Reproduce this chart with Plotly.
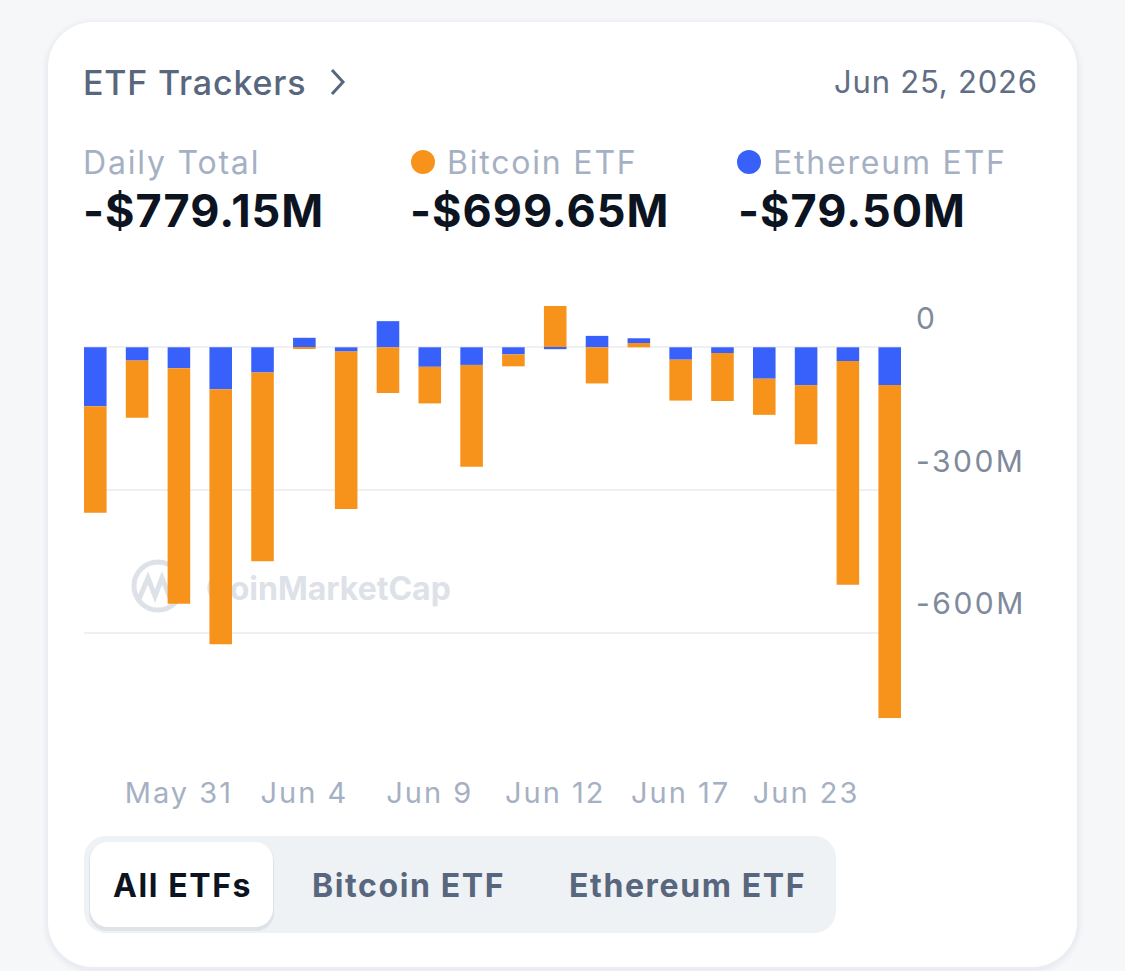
import plotly.graph_objects as go

# ---------------- data ----------------
dates = ["May 28", "May 29", "May 31", "Jun 1", "Jun 2", "Jun 4", "Jun 5", "Jun 8",
         "Jun 9", "Jun 10", "Jun 11", "Jun 12", "Jun 15", "Jun 16", "Jun 17", "Jun 18",
         "Jun 22", "Jun 23", "Jun 24", "Jun 25"]
btc_flow = [-224, -120, -495, -536, -397, -3.5, -331, -96, -77, -214,
            -25, 87, -76, 9, -86, -101, -76, -124, -470, -699.65]
eth_flow = [-124, -28, -44, -88, -53, 20, -9, 55, -41, -37,
            -15, -4, 24, 10, -26, -12, -66, -80, -29, -79.50]
tick_dates = ["May 31", "Jun 4", "Jun 9", "Jun 12", "Jun 17", "Jun 23"]
y_ticks = [0, -300, -600]
y_tick_text = ["0", "-300M", "-600M"]
header_date = "Jun 25, 2026"

# ---------------- helpers ----------------
W, H = 1125, 971
FONT = "Inter, Roboto, 'Noto Sans', sans-serif"
ORANGE = "#f7931a"
BLUE = "#3861fb"


def px(x):
    return x / W


def py(y):
    return 1 - y / H


def rrect(x0, y0, x1, y1, r):
    k = 0.5523 * r
    pts = [
        ("M", [(x0 + r, y0)]),
        ("L", [(x1 - r, y0)]),
        ("C", [(x1 - r + k, y0), (x1, y0 + r - k), (x1, y0 + r)]),
        ("L", [(x1, y1 - r)]),
        ("C", [(x1, y1 - r + k), (x1 - r + k, y1), (x1 - r, y1)]),
        ("L", [(x0 + r, y1)]),
        ("C", [(x0 + r - k, y1), (x0, y1 - r + k), (x0, y1 - r)]),
        ("L", [(x0, y0 + r)]),
        ("C", [(x0, y0 + r - k), (x0 + r - k, y0), (x0 + r, y0)]),
    ]
    s = ""
    for cmd, ps in pts:
        s += cmd + " " + " ".join(f"{px(a):.5f},{py(b):.5f}" for a, b in ps) + " "
    return s + "Z"


def polyline(points):
    return "M " + " L ".join(f"{px(a):.5f},{py(b):.5f}" for a, b in points)


def fmt(v):
    return ("-" if v < 0 else "") + f"${abs(v):.2f}M"


def spaced(t, ls):
    return f'<span style="letter-spacing:{ls}px">{t}</span>'


btc_pos = [v if v > 0 else None for v in btc_flow]
btc_neg = [v if v <= 0 else None for v in btc_flow]

# ---------------- figure ----------------
fig = go.Figure()
bw = 0.54
fig.add_trace(go.Bar(x=dates, y=btc_pos, marker_color=ORANGE, width=bw,
                     marker_line_width=0, name="Bitcoin ETF", showlegend=False))
fig.add_trace(go.Bar(x=dates, y=eth_flow, marker_color=BLUE, width=bw,
                     marker_line_width=0, name="Ethereum ETF", showlegend=False))
fig.add_trace(go.Bar(x=dates, y=btc_neg, marker_color=ORANGE, width=bw,
                     marker_line_width=0, name="Bitcoin ETF", showlegend=False))

shapes = []
# card shadow + card
for i, a in enumerate([0.012, 0.012, 0.015]):
    e = 6 - 2 * i
    shapes.append(dict(type="path", xref="paper", yref="paper", layer="below",
                       path=rrect(48 - e, 22 - e + 2, 1077 + e, 967 + e + 2, 45 + e),
                       fillcolor=f"rgba(20,30,60,{a})", line_width=0))
shapes.append(dict(type="path", xref="paper", yref="paper", layer="below",
                   path=rrect(48, 22, 1077, 967, 45), fillcolor="#ffffff", line_width=0))
# chevron
shapes.append(dict(type="path", xref="paper", yref="paper",
                   path=polyline([(332, 70), (343, 82), (332, 94)]),
                   line=dict(color="#58667e", width=3)))
# legend dots
shapes.append(dict(type="circle", xref="paper", yref="paper",
                   x0=px(411), x1=px(435), y0=py(150), y1=py(174),
                   fillcolor=ORANGE, line_width=0))
shapes.append(dict(type="circle", xref="paper", yref="paper",
                   x0=px(737), x1=px(761), y0=py(150), y1=py(174),
                   fillcolor=BLUE, line_width=0))
# watermark logo
WM = "#dde1e8"
shapes.append(dict(type="circle", xref="paper", yref="paper", layer="below",
                   x0=px(134), x1=px(182), y0=py(562), y1=py(610),
                   fillcolor="rgba(0,0,0,0)", line=dict(color=WM, width=5)))
shapes.append(dict(type="path", xref="paper", yref="paper", layer="below",
                   path=polyline([(139, 599), (148, 578), (155, 596), (162, 578),
                                  (169, 595), (178, 588)]),
                   line=dict(color=WM, width=5)))
shapes.append(dict(type="rect", xref="paper", yref="paper", layer="below",
                   x0=px(203), x1=px(460), y0=py(606), y1=py(568),
                   line_width=0, fillcolor="rgba(0,0,0,0)",
                   label=dict(text="<b>CoinMarketCap</b>", textposition="middle left",
                              padding=0,
                              font=dict(family=FONT, size=32, color=WM))))
# segmented control
shapes.append(dict(type="path", xref="paper", yref="paper", layer="below",
                   path=rrect(84, 836, 836, 933, 22), fillcolor="#eff2f5", line_width=0))
shapes.append(dict(type="path", xref="paper", yref="paper", layer="below",
                   path=rrect(89, 843, 274, 931, 18), fillcolor="rgba(20,30,60,0.07)",
                   line_width=0))
shapes.append(dict(type="path", xref="paper", yref="paper", layer="below",
                   path=rrect(90, 842, 273, 927, 18), fillcolor="#ffffff", line_width=0))

ann = []


def text(x, y, t, size, color, anchor="left", bold=False, ls=0, weight=None):
    t = f"<b>{t}</b>" if bold else t
    if ls:
        t = spaced(t, ls)
    f = dict(family=FONT, size=size, color=color)
    if weight:
        f["weight"] = weight
    ann.append(dict(x=px(x), y=py(y), xref="paper", yref="paper", showarrow=False,
                    text=t, xanchor=anchor, yanchor="middle", font=f))


text(81, 82, "ETF Trackers", 34, "#58667e", ls=0.8, weight=500)
text(1040, 81, header_date, 31, "#616e85", anchor="right", ls=0.8)
text(81, 162, "Daily Total", 32, "#a6b0c3", ls=1.8)
text(445, 162, "Bitcoin ETF", 32, "#a6b0c3", ls=1.8)
text(771, 162, "Ethereum ETF", 32, "#a6b0c3", ls=1.8)
text(81, 211, fmt(btc_flow[-1] + eth_flow[-1]), 45, "#0d1421", bold=True, ls=1)
text(408, 211, fmt(btc_flow[-1]), 45, "#0d1421", bold=True, ls=1)
text(736, 211, fmt(eth_flow[-1]), 45, "#0d1421", bold=True, ls=1)
text(182, 885, "All ETFs", 32, "#0d1421", anchor="center", bold=True, ls=1.6)
text(408, 885, "Bitcoin ETF", 32, "#58667e", anchor="center", bold=True, ls=1.6)
text(687, 885, "Ethereum ETF", 32, "#58667e", anchor="center", bold=True, ls=1.6)

# plot area geometry
zero_px = 347.3
m_per_px = 1 / 0.4757
top_px, bot_px = 290, 740
y_top = (zero_px - top_px) * m_per_px
y_bot = -(bot_px - zero_px) * m_per_px

fig.update_layout(
    width=W, height=H,
    margin=dict(l=0, r=0, t=0, b=0),
    paper_bgcolor="#f6f7f9",
    plot_bgcolor="rgba(0,0,0,0)",
    barmode="relative",
    showlegend=False,
    shapes=shapes,
    annotations=ann,
    font=dict(family=FONT),
    xaxis=dict(domain=[px(84), px(901)], type="category", range=[-0.27, 19.27],
               tickmode="array", tickvals=tick_dates,
               ticktext=[spaced(t, 2) for t in tick_dates],
               showgrid=False, zeroline=False, showline=False, ticks="",
               tickfont=dict(size=29, color="#a6b0c3"), ticklabelstandoff=33,
               fixedrange=True),
    yaxis=dict(domain=[py(bot_px), py(top_px)], range=[y_bot, y_top], side="right",
               tickmode="array", tickvals=y_ticks,
               ticktext=[spaced(t, 2.5) for t in y_tick_text],
               showgrid=True, gridcolor="#eef0f3", gridwidth=2, zeroline=False,
               showline=False, ticks="", ticklabelshift=-29, ticklabelstandoff=14,
               tickfont=dict(size=30, color="#808a9d"), fixedrange=True),
)

fig.write_html("out.html")
